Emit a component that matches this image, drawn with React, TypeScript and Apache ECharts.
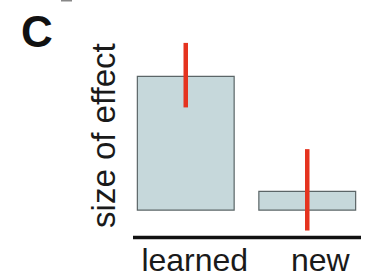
import React, { useEffect, useRef } from "react";
import * as echarts from "echarts";

const categories = ["learned", "new"];
const values = [10, 1.47];
const errLow = [7.65, -1.47];
const errHigh = [12.43, 4.56];
const yName = "size of effect";
const panelLabel = "C";

const FONT = "'Liberation Sans', Arial, Helvetica, sans-serif";

export default function App() {
  const ref = useRef<HTMLDivElement>(null);
  useEffect(() => {
    if (!ref.current) return;
    const chart = echarts.init(ref.current, null, { renderer: "svg" });
    const errData = categories.map((_, i) => [i, errLow[i], errHigh[i]]);
    chart.setOption({
      animation: false,
      backgroundColor: "#ffffff",
      grid: { left: 125, width: 244, top: 35.2, bottom: 38.5, containLabel: false },
      xAxis: {
        type: "category",
        data: categories,
        axisLine: { show: false },
        axisTick: { show: false },
        axisLabel: {
          interval: 0,
          hideOverlap: false,
          margin: 11,
          color: "#1a1a1a",
          fontFamily: FONT,
          fontSize: 32,
          lineHeight: 26,
          formatter: (v: string) => (v === categories[0] ? "{a|" + v + "}" : "{b|" + v + "}"),
          rich: {
            a: { fontFamily: FONT, fontSize: 32, lineHeight: 26, color: "#1a1a1a", padding: [0, 0, 0, 18] },
            b: { fontFamily: FONT, fontSize: 32, lineHeight: 26, color: "#1a1a1a", padding: [0, 0, 0, 26] },
          },
        },
      },
      yAxis: {
        type: "value",
        min: -1.875,
        max: 13,
        axisLine: { show: false },
        axisTick: { show: false },
        axisLabel: { show: false },
        splitLine: { show: false },
        name: yName,
        nameLocation: "middle",
        nameRotate: 90,
        nameGap: 5,
        nameTextStyle: { fontFamily: FONT, fontSize: 33, color: "#1a1a1a" },
      },
      series: [
        {
          type: "bar",
          data: values,
          barWidth: 98,
          itemStyle: { color: "#c6d8db", borderColor: "#5b6567", borderWidth: 1.2 },
          z: 2,
        },
        {
          type: "custom",
          data: errData,
          z: 3,
          renderItem: (params: any, api: any) => {
            const x = api.value(0);
            const lo = api.coord([x, api.value(1)]);
            const hi = api.coord([x, api.value(2)]);
            return {
              type: "rect",
              shape: { x: lo[0] - 2.25, y: hi[1], width: 4.5, height: lo[1] - hi[1] },
              style: { fill: "#e5331f" },
            };
          },
        },
      ],
      graphic: [
        {
          type: "line",
          shape: { x1: 133, y1: 237.5, x2: 361, y2: 237.5 },
          style: { stroke: "#111111", lineWidth: 3.5 },
        },
        {
          type: "text",
          x: 21,
          y: 31.8,
          style: {
            text: panelLabel,
            font: "bold 44px " + FONT,
            fill: "#111111",
            verticalAlign: "middle",
            align: "left",
          },
        },
        {
          type: "rect",
          shape: { x: 61, y: 0, width: 11, height: 1.5 },
          style: { fill: "#888888" },
        },
      ],
    });
    return () => chart.dispose();
  }, []);
  return (
    <div
      ref={ref}
      style={{ position: "fixed", left: 0, top: 0, width: 368, height: 276 }}
    />
  );
}
